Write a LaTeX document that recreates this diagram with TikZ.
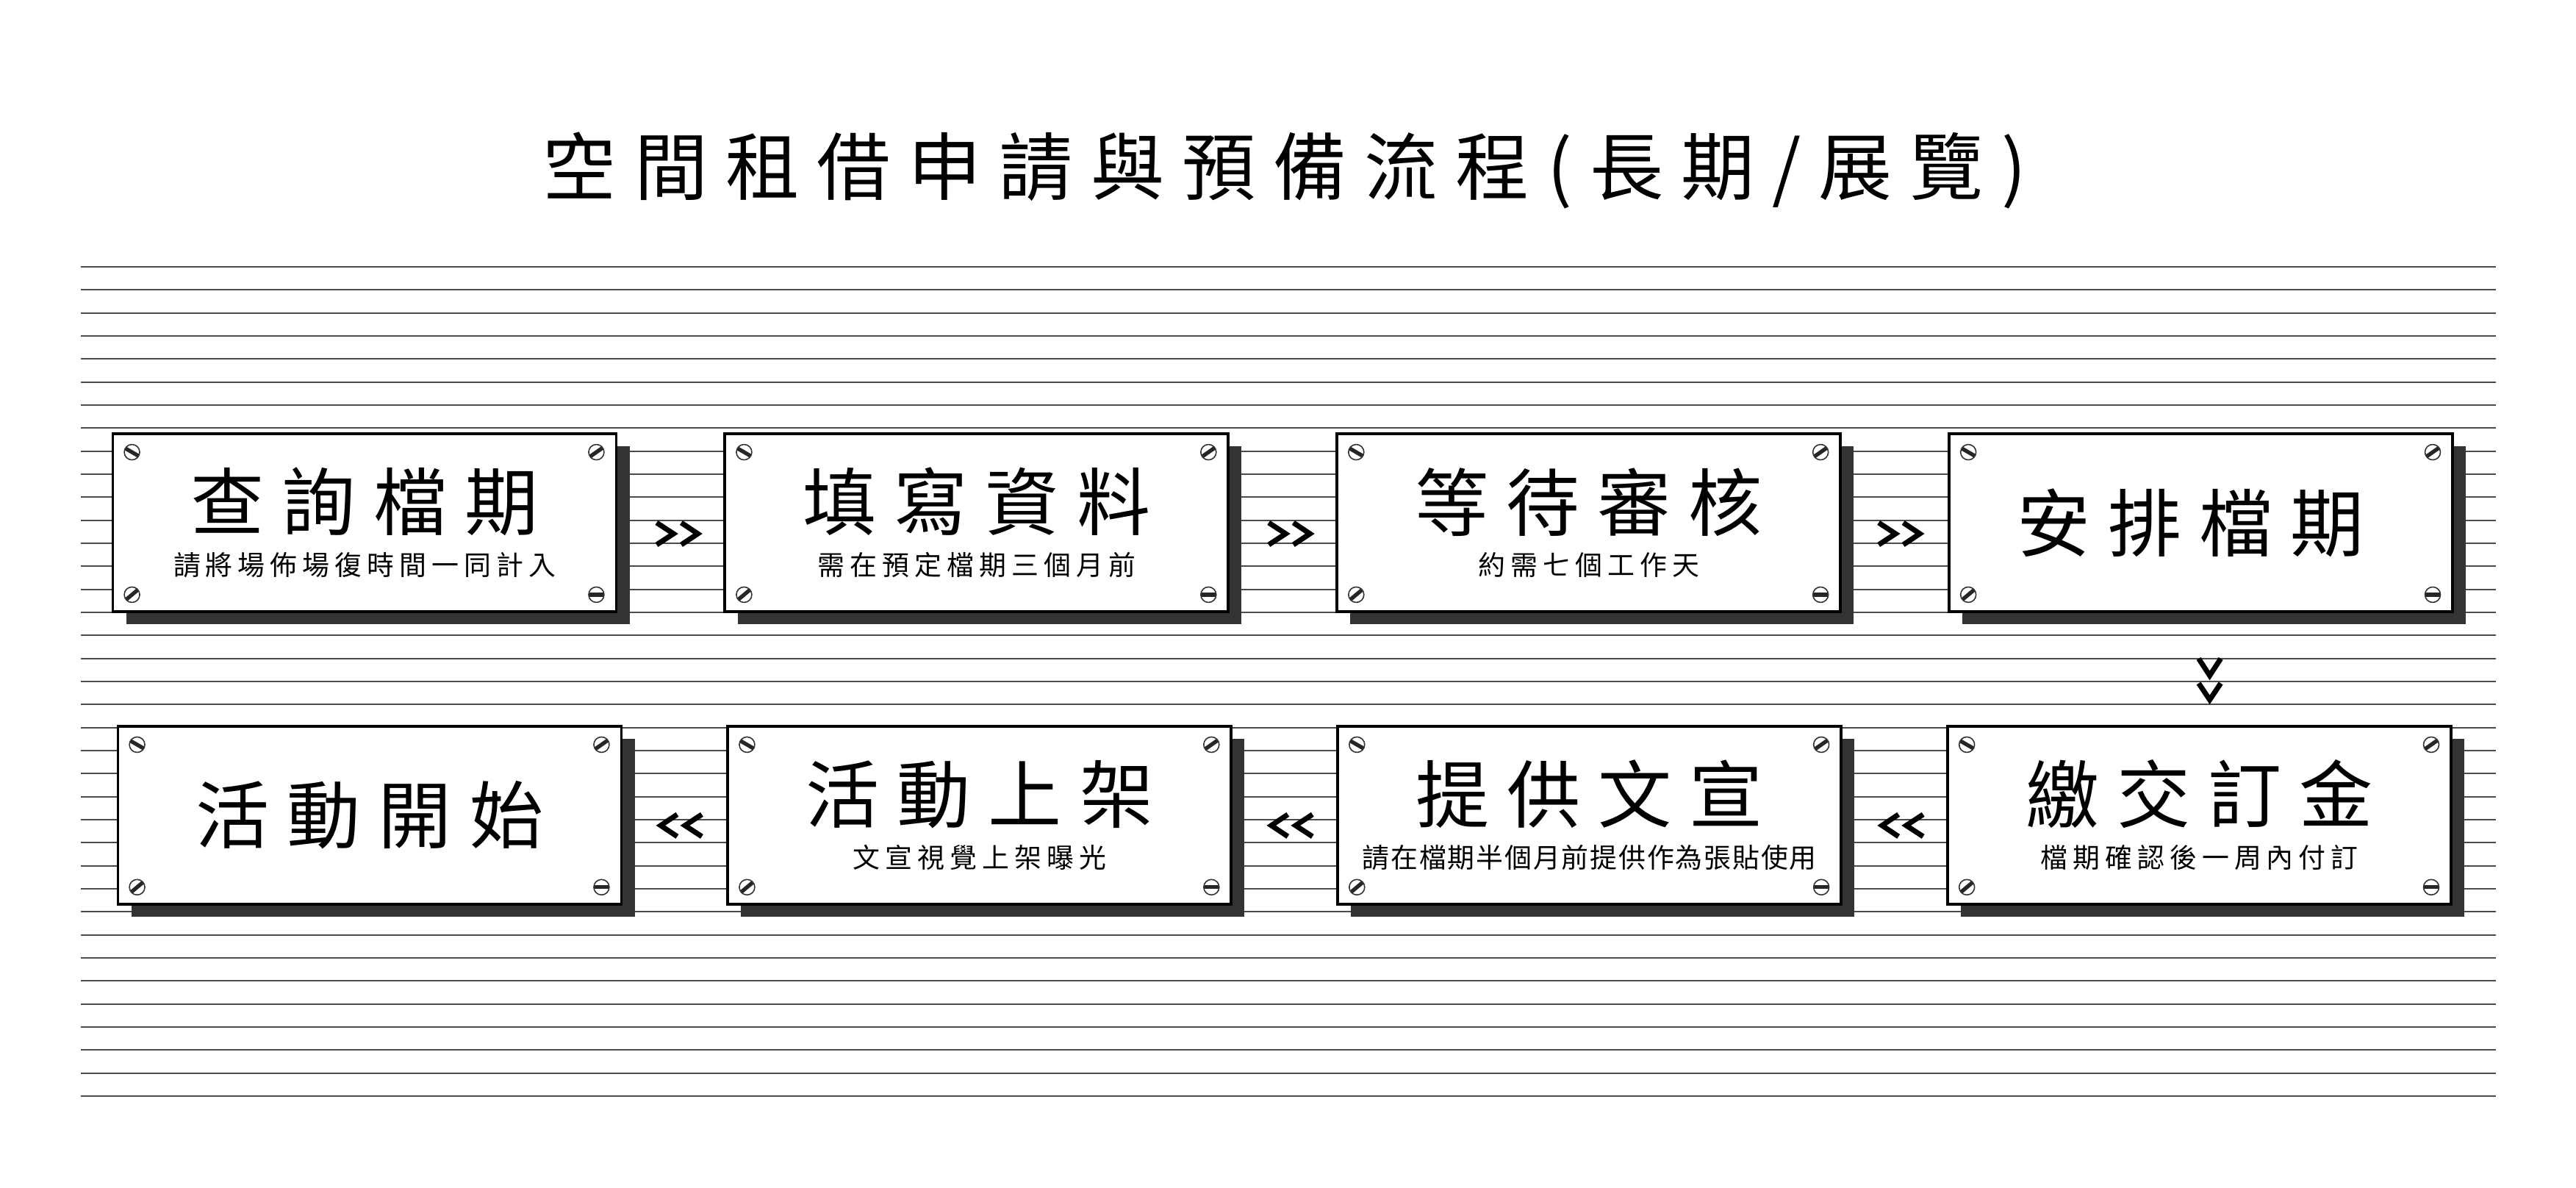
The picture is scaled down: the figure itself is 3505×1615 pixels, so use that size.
\documentclass[tikz,border=0pt]{standalone}
\usepackage{fontspec}
\usepackage{xcolor}
\usepackage{tikz}
\usetikzlibrary{shadows,calc}
\usetikzlibrary{shapes,arrows,positioning}

\newfontfamily\cjkplate[LetterSpace=24]{Noto Sans CJK TC}
\newfontfamily\cjknote[LetterSpace=19]{Noto Sans CJK TC}
\newcommand\platename[1]{{\fontsize{28.5}{17.6}\selectfont\cjkplate #1}}
\newcommand\platenote[1]{{\fontsize{10.5}{17.6}\selectfont\cjknote #1}}

\begin{document}
\begin{tikzpicture}[x=0.1mm, y=-0.1mm,
          plate/.style={draw, fill=white, line width=1.1pt, minimum width=68.5mm, minimum height=24.2mm,
              inner sep=0pt, align=center, font=\fontsize{28.5}{17.6}\selectfont,
              drop shadow={shadow xshift=1.8mm, shadow yshift=-1.7mm, fill=black!80, opacity=1}},
          rule/.style={line width=0.55pt, black!70},
          screw/.pic={
              \begin{scope}
                \clip (0,0) circle[radius=1.05mm];
                \fill[white] (0,0) circle[radius=1.05mm];
                \draw[line width=1.5pt, black!85, rotate=#1] (-1.3mm,0) -- (1.3mm,0);
              \end{scope}
              \draw[line width=0.45pt, black!80] (0,0) circle[radius=1.05mm];
          },
          chev/.pic={
              \draw[line width=2pt, rotate=#1] (-3mm,-1.5mm) -- (-0.7mm,0) -- (-3mm,1.5mm)
                  (0.35mm,-1.5mm) -- (2.6mm,0) -- (0.35mm,1.5mm);
          },
		]
			\useasboundingbox (0,0) rectangle (3505,1615);
			\foreach \k in {0,...,36}
				\draw[rule] (110,363+31.33*\k) -- (3396,363+31.33*\k);

			\node (title) at (1748,232) {\platename{空間租借申請與預備流程(長期/展覽)}};

			\node[plate] (query) at (496,711) {\platename{查詢檔期}\\\platenote{請將場佈場復時間一同計入}};
			\node[plate, right=14.4mm of query] (form) {\platename{填寫資料}\\\platenote{需在預定檔期三個月前}};
			\node[plate, right=14.4mm of form] (review) {\platename{等待審核}\\\platenote{約需七個工作天}};
			\node[plate, right=14.4mm of review] (book) {\platename{安排檔期\hspace*{2.8mm}}};
			\node[plate, below=15.2mm of book, xshift=-0.2mm] (deposit)
                {\platename{繳交訂金}\\\platenote{檔期確認後一周內付訂}};
			\node[plate, left=14.1mm of deposit] (artwork)
                {\platename{提供文宣}\\\platenote{\addfontfeature{LetterSpace=5}請在檔期半個月前提供作為張貼使用}};
			\node[plate, left=14.1mm of artwork] (launch) {\platename{活動上架}\\\platenote{文宣視覺上架曝光}};
			\node[plate, left=14.1mm of launch] (start) {\platename{活動開始}};

			\foreach \n in {query,form,review,book,deposit,artwork,launch,start}{
				\pic at ([shift={(28,27)}]\n.north west) {screw=-30};
				\pic at ([shift={(-29,27)}]\n.north east) {screw=35};
				\pic at ([shift={(28,-25)}]\n.south west) {screw=40};
				\pic at ([shift={(-29,-25)}]\n.south east) {screw=0};
			}

			\pic at ($(query.east)!0.5!(form.west)+(11,15)$) {chev=0};
			\pic at ($(form.east)!0.5!(review.west)+(11,15)$) {chev=0};
			\pic at ($(review.east)!0.5!(book.west)+(8,15)$) {chev=0};
			\pic at ($(book.south)!0.5!(deposit.north)+(13,16)$) {chev=-90};
			\pic at ($(deposit.west)!0.5!(artwork.east)+(9,14)$) {chev=180};
			\pic at ($(artwork.west)!0.5!(launch.east)+(8,14)$) {chev=180};
			\pic at ($(launch.west)!0.5!(start.east)+(7,14)$) {chev=180};

		 \end{tikzpicture}
\end{document}
